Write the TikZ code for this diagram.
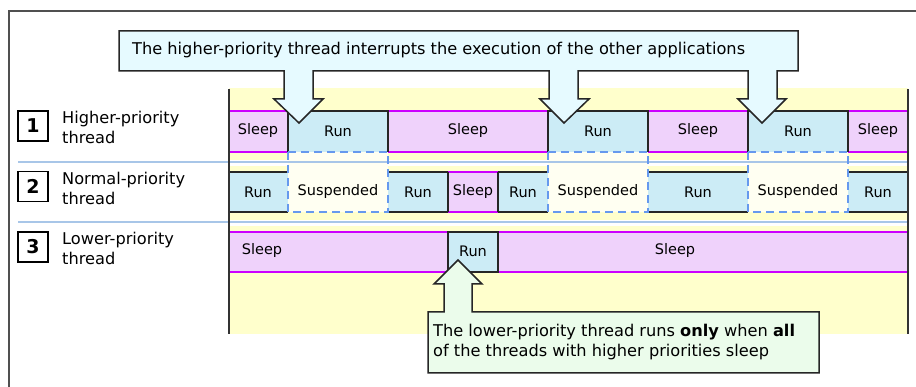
\documentclass[tikz,border=0pt]{standalone}
\usepackage{fontspec}
\setmainfont{DejaVu Sans}
\definecolor{bgyel}{HTML}{FFFFCC}
\definecolor{sleepc}{HTML}{EFD2FB}
\definecolor{magc}{HTML}{CC00FF}
\definecolor{runc}{HTML}{CCECF6}
\definecolor{susc}{HTML}{FFFFF2}
\definecolor{dashc}{HTML}{6699EE}
\definecolor{sepc}{HTML}{A8C6E8}
\definecolor{callA}{HTML}{E6FAFF}
\definecolor{callB}{HTML}{EBFCEB}
\definecolor{framec}{HTML}{505050}
\begin{document}
\begin{tikzpicture}[x=1pt,y=-1pt,
  magline/.style={draw=magc,line width=2pt},
  blkline/.style={draw=black!85,line width=1.5pt},
  susline/.style={draw=dashc,line width=1.5pt,dash pattern=on 8pt off 5pt},
  sepline/.style={draw=sepc,line width=1.8pt},
  axisline/.style={draw=black!80,line width=2pt},
  btxt/.style={font=\fontsize{14.5}{16}\selectfont,inner sep=0pt,anchor=center},
  ltxt/.style={font=\fontsize{16.2}{20}\selectfont,inner sep=0pt,anchor=base west},
  numbox/.style={draw=black,line width=1.5pt,minimum width=30pt,minimum height=30pt,inner sep=0pt,font=\fontsize{19}{20}\selectfont\bfseries},
  calltxt/.style={font=\fontsize{16.2}{20}\selectfont,inner sep=0pt,anchor=base west},
  callout/.style={draw=black!85,line width=1.5pt}]
\useasboundingbox (0,0) rectangle (916,387);
% outer frame
\draw[draw=framec,line width=2pt] (9,387) -- (9,11) -- (916,11);
% chart background
\fill[bgyel] (229,88) rectangle (908,334);
\fill[white] (229,160) rectangle (908,166);
\fill[white] (229,220) rectangle (908,226);
% suspended columns
\foreach \a/\b in {288/388,548/648,748/848}{
  \fill[susc] (\a,152) rectangle (\b,212);
}
% row 1
\foreach \a/\b in {229/288,388/548,648/748,848/908}{
  \fill[sleepc] (\a,111) rectangle (\b,152);
  \draw[magline] (\a,111) -- (\b,111);
  \draw[magline] (\a,152) -- (\b,152);
}
\foreach \a/\b in {288/388,548/648,748/848}{
  \fill[runc] (\a,111) rectangle (\b,152);
  \draw[blkline] (\a,152) -- (\a,111) -- (\b,111) -- (\b,152);
}
% row 2
\foreach \a/\b in {229/288,388/448,498/548,648/748,848/908}{
  \fill[runc] (\a,172) rectangle (\b,212);
  \draw[blkline] (\a,172) -- (\b,172);
  \draw[blkline] (\a,212) -- (\b,212);
}
\fill[sleepc] (448,172) rectangle (498,212);
\draw[magline] (448,172) -- (498,172);
\draw[magline] (448,212) -- (498,212);
\draw[blkline] (448,172) -- (448,212);
\draw[blkline] (498,172) -- (498,212);
% separators
\draw[sepline] (18,162) -- (908,162);
\draw[sepline] (18,222) -- (908,222);
% suspended dashed borders
\foreach \a/\b in {288/388,548/648,748/848}{
  \draw[susline] (\a,152) -- (\b,152);
  \draw[susline] (\a,152) -- (\a,212) -- (\b,212) -- (\b,152);
}
% row 3
\foreach \a/\b in {229/448,498/908}{
  \fill[sleepc] (\a,232) rectangle (\b,272);
  \draw[magline] (\a,232) -- (\b,232);
  \draw[magline] (\a,272) -- (\b,272);
}
\fill[runc] (448,232) rectangle (498,272);
\draw[blkline] (448,232) rectangle (498,272);
% axes
\draw[axisline] (229,89) -- (229,334);
\draw[axisline] (908,89) -- (908,334);
% block texts
\node[btxt] (s11) at (258,131) {Sleep};
\node[btxt] (r12) at (338,131) {Run};
\node[btxt] (s13) at (468,131) {Sleep};
\node[btxt] (r14) at (598,131) {Run};
\node[btxt] (s15) at (698,131) {Sleep};
\node[btxt] (r16) at (798,131) {Run};
\node[btxt] (s17) at (878,131) {Sleep};
\node[btxt] (r21) at (258,192) {Run};
\node[btxt] (u22) at (338,192) {Suspended};
\node[btxt] (r23) at (418,192) {Run};
\node[btxt] (s24) at (473,192) {Sleep};
\node[btxt] (r25) at (523,192) {Run};
\node[btxt] (u26) at (598,192) {Suspended};
\node[btxt] (r27) at (698,192) {Run};
\node[btxt] (u28) at (798,192) {Suspended};
\node[btxt] (r29) at (878,192) {Run};
\node[btxt] (s31) at (262,251) {Sleep};
\node[btxt] (r32) at (473,251) {Run};
\node[btxt] (s33) at (675,251) {Sleep};
% row labels
\node[numbox] (n1) at (33,126) {1};
\node[numbox] (n2) at (33,186.5) {2};
\node[numbox] (n3) at (33,247) {3};
\node[ltxt] (l1a) at (62,124) {Higher-priority};
\node[ltxt] (l1b) at (62,144) {thread};
\node[ltxt] (l2a) at (62,185) {Normal-priority};
\node[ltxt] (l2b) at (62,205) {thread};
\node[ltxt] (l3a) at (62,245) {Lower-priority};
\node[ltxt] (l3b) at (62,265) {thread};
% top callout
\filldraw[callout,fill=callA] (119,31) -- (798,31) -- (798,71) -- (777,71) -- (777,99) -- (786,99) -- (762,123) -- (738,99) -- (748,99) -- (748,71)
  -- (578,71) -- (578,99) -- (589,99) -- (564,123) -- (540,99) -- (549,99) -- (549,71)
  -- (313,71) -- (313,99) -- (323,99) -- (299,123) -- (274,99) -- (284,99) -- (284,71) -- (119,71) -- cycle;
\node[calltxt] (ct) at (132,55) {The higher-priority thread interrupts the execution of the other applications};
% bottom callout
\filldraw[callout,fill=callB] (428,312) -- (444,312) -- (444,284) -- (434,284) -- (458,260) -- (482,284) -- (472,284) -- (472,312) -- (819,312) -- (819,373) -- (428,373) -- cycle;
\node[calltxt] (cb1) at (433,337) {The lower-priority thread runs \textbf{only} when \textbf{all}};
\node[calltxt] (cb2) at (433,357) {of the threads with higher priorities sleep};
\end{tikzpicture}
\end{document}
